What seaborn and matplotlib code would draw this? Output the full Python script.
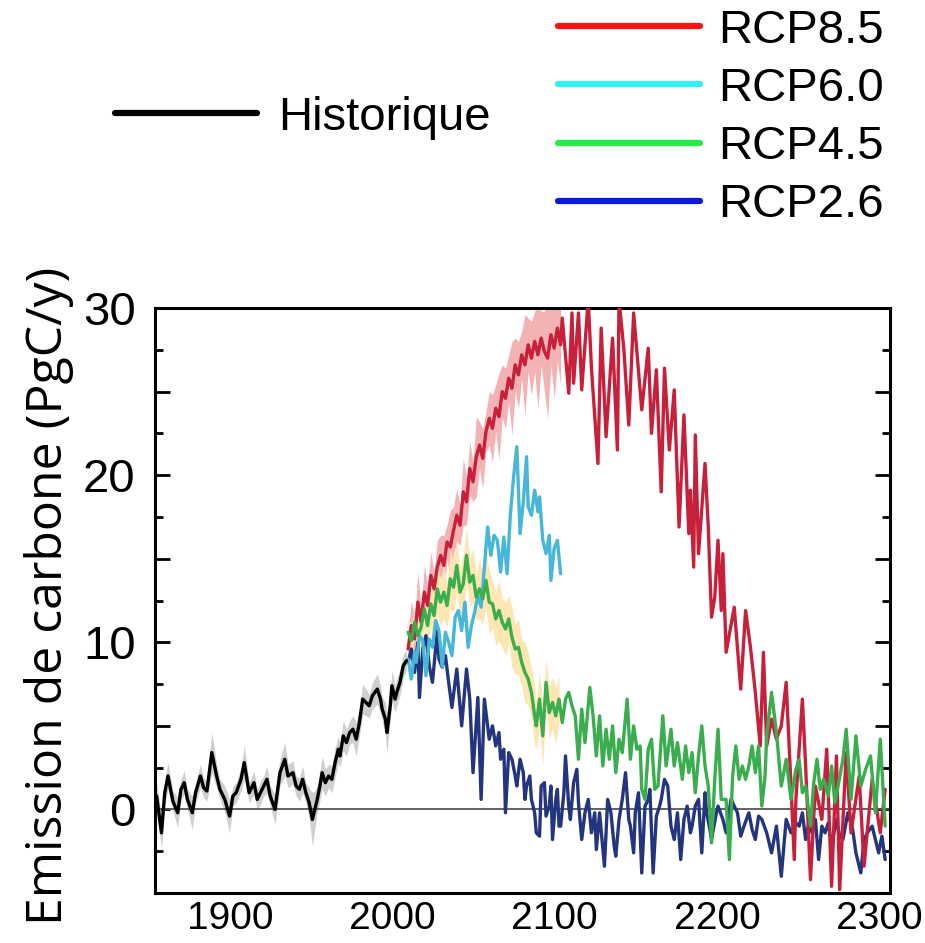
import numpy as np
import matplotlib
matplotlib.use("Agg")
import matplotlib.pyplot as plt
import matplotlib.ticker as mticker
import matplotlib.transforms as mtransforms
from matplotlib.lines import Line2D
import seaborn as sns

sns.set_theme(style="white")
plt.rcParams["font.family"] = ["Liberation Sans", "DejaVu Sans"]
plt.rcParams["text.color"] = "black"
plt.rcParams["axes.labelcolor"] = "black"

# ── Historique ───────────────────────────────────────────────
hist_years = [1851, 1854, 1856, 1858, 1861, 1864, 1866, 1868, 1870, 1873,
              1875, 1878, 1880, 1882, 1885, 1888, 1890, 1893, 1896, 1898,
              1900, 1903, 1905, 1908, 1911, 1913, 1915, 1917, 1919, 1921,
              1924, 1927, 1930, 1932, 1935, 1937, 1939, 1941, 1943, 1945,
              1947, 1949, 1950, 1952, 1953, 1955, 1957, 1959, 1961, 1963,
              1964, 1966, 1968, 1970, 1972, 1974, 1976, 1978, 1980, 1982,
              1984, 1987, 1989, 1990, 1992, 1993, 1995, 1996, 1998, 1999,
              2001, 2003, 2005]
hist_vals = [0.8, -1.4, 1.0, 2.0, 0.5, -0.2, 1.2, 1.6, 0.6, -0.2,
             1.0, 2.0, 1.3, 1.1, 3.4, 2.0, 1.2, 0.6, -0.4, 0.8,
             1.0, 1.8, 2.8, 1.0, 1.6, 0.6, 1.0, 1.4, 1.8, 0.8,
             0.0, 2.2, 3.0, 2.0, 2.2, 1.4, 1.2, 1.8, 1.0, 0.4,
             -0.6, 0.2, 0.6, 1.6, 2.2, 1.6, 2.0, 1.8, 2.8, 3.6,
             3.2, 4.4, 4.0, 4.6, 4.8, 4.2, 5.2, 6.6, 6.4, 6.2,
             6.8, 7.2, 6.6, 6.0, 5.4, 4.6, 6.2, 7.4, 6.6, 7.0,
             7.6, 8.6, 8.9]
hist_spread = [0.8, 1.0, 0.7, 0.8, 0.6, 0.9, 0.6, 0.7, 0.6, 1.0,
               0.6, 0.7, 0.6, 0.6, 1.2, 0.7, 0.6, 0.8, 1.0, 0.6,
               0.6, 0.7, 1.0, 0.6, 0.7, 0.6, 0.7, 0.6, 0.8, 0.6,
               0.9, 0.8, 1.0, 0.7, 0.7, 0.6, 0.7, 0.8, 0.6, 0.9,
               1.6, 1.0, 0.8, 0.9, 1.0, 0.8, 0.7, 0.8, 0.9, 0.8,
               0.7, 0.9, 0.8, 0.7, 0.8, 1.0, 0.8, 0.9, 0.8, 0.7,
               0.8, 0.9, 0.8, 0.7, 1.0, 1.2, 0.8, 0.9, 0.8, 0.8,
               0.8, 0.7, 0.6]

# ── RCP8.5 ───────────────────────────────────────────────────
rcp85_years = [2006, 2008, 2010, 2012, 2014, 2016, 2018, 2020, 2022, 2024,
               2026, 2028, 2030, 2032, 2034, 2036, 2038, 2040, 2042, 2044,
               2046, 2048, 2050, 2052, 2054, 2056, 2058, 2060, 2062, 2064,
               2066, 2068, 2070, 2072, 2074, 2076, 2078, 2080, 2082, 2084,
               2086, 2088, 2090, 2092, 2094, 2096, 2098, 2100,
               2101, 2105, 2107, 2108, 2111, 2113, 2117, 2119, 2123, 2125,
               2128, 2132, 2135, 2136, 2139, 2142, 2145, 2150, 2154, 2156,
               2159, 2162, 2164, 2167, 2170, 2173, 2176, 2179, 2180, 2182,
               2183, 2185, 2189, 2191, 2193, 2195, 2197, 2199, 2200, 2202,
               2207, 2211, 2214, 2217, 2220, 2223, 2225, 2227, 2230, 2233,
               2236, 2239, 2242, 2244, 2245, 2249, 2251, 2254, 2257, 2261,
               2264, 2267, 2270, 2272, 2276, 2279, 2284, 2287, 2292, 2297,
               2300]
rcp85_vals = [9.6, 11.0, 10.2, 12.4, 11.2, 13.0, 12.2, 14.0, 13.2, 14.5,
              15.2, 14.6, 16.0, 15.7, 16.7, 17.6, 17.0, 19.0, 18.4, 20.4,
              19.6, 21.1, 21.8, 21.0, 22.6, 23.4, 22.8, 24.0, 23.5, 25.0,
              24.6, 25.8, 25.2, 26.6, 26.0, 27.2, 26.6, 27.8, 27.0, 28.0,
              27.2, 28.2, 27.4, 27.0, 28.4, 27.6, 28.8, 27.8,
              29.4, 24.9, 29.7, 25.5, 29.7, 25.1, 30.5, 26.4, 20.7, 28.8,
              22.3, 28.2, 21.5, 30.5, 27.5, 23.0, 29.7, 23.9, 27.6, 22.5,
              26.3, 19.0, 26.4, 21.5, 25.1, 16.9, 23.6, 16.5, 19.1, 14.5,
              22.4, 15.3, 20.7, 16.9, 11.5, 12.7, 16.1, 11.9, 15.3, 9.4,
              12.1, 7.2, 11.9, 9.7, 7.0, 3.8, 9.4, 3.8, 5.4, 4.2,
              5.0, 7.6, 1.4, -3.0, 0.6, 6.6, 2.6, -4.2, 1.4, -0.6,
              3.6, -4.6, 3.2, -4.8, 3.4, -1.4, 2.0, -3.4, 1.8, -1.4,
              1.2]
# band half-width, 2006-2100 only
rcp85_spread = [1.0, 1.5, 1.2, 1.8, 1.0, 1.6, 1.2, 1.4, 1.0, 1.6,
                1.2, 1.8, 1.0, 2.2, 1.4, 1.6, 1.2, 2.0, 1.4, 1.6,
                1.2, 2.4, 1.4, 1.8, 1.2, 1.6, 2.0, 1.4, 2.6, 1.6,
                1.8, 1.4, 2.8, 1.6, 2.0, 1.4, 3.0, 1.6, 2.2, 1.8,
                3.2, 1.6, 2.4, 3.6, 1.8, 3.0, 2.0, 2.4]

# ── RCP6.0 ───────────────────────────────────────────────────
rcp60_years = [2006, 2008, 2010, 2011, 2013, 2015, 2017, 2019, 2021, 2023,
               2025, 2027, 2029, 2031, 2033, 2035, 2037, 2039, 2041, 2043,
               2045, 2047, 2049, 2051, 2053, 2055, 2057, 2059, 2061, 2063,
               2065, 2067, 2069, 2071, 2073, 2075, 2077, 2079, 2080, 2082,
               2084, 2086, 2087, 2089, 2091, 2093, 2094, 2096, 2098, 2100]
rcp60_vals = [9.0, 7.8, 9.4, 8.8, 10.4, 10.1, 8.0, 10.2, 9.7, 11.3,
              10.7, 8.5, 10.6, 10.0, 9.2, 11.5, 11.9, 10.7, 12.4, 9.7,
              11.0, 11.8, 12.8, 12.1, 14.5, 16.9, 15.2, 16.4, 16.1, 14.2,
              16.3, 14.1, 17.6, 19.9, 21.7, 16.5, 18.4, 21.1, 18.1, 17.6,
              19.1, 17.8, 18.7, 16.1, 15.3, 16.4, 13.7, 15.6, 16.1, 14.1]

# ── RCP4.5 ───────────────────────────────────────────────────
rcp45_years = [2006, 2008, 2010, 2012, 2014, 2016, 2018, 2020, 2022, 2024,
               2026, 2028, 2030, 2032, 2034, 2036, 2038, 2040, 2042, 2044,
               2046, 2048, 2050, 2052, 2054, 2056, 2058, 2060, 2062, 2064,
               2066, 2068, 2070, 2072, 2074, 2076, 2078, 2080, 2082, 2084,
               2085, 2087, 2089, 2091, 2093, 2095, 2097, 2099, 2101, 2103,
               2105, 2107, 2109, 2111, 2113, 2115, 2118, 2120, 2122, 2124,
               2126, 2128, 2130, 2132, 2134, 2136, 2138, 2141, 2143, 2145,
               2147, 2149, 2150, 2152, 2154, 2156, 2158, 2160, 2163, 2165,
               2168, 2170, 2172, 2175, 2177, 2179, 2181, 2183, 2185, 2187,
               2189, 2191, 2193, 2195, 2197, 2199, 2202, 2204, 2206, 2208,
               2210, 2212, 2214, 2216, 2218, 2220, 2222, 2224, 2226, 2227,
               2230, 2233, 2236, 2239, 2242, 2245, 2247, 2249, 2251, 2254,
               2256, 2258, 2260, 2262, 2265, 2267, 2269, 2271, 2274, 2276,
               2279, 2282, 2285, 2288, 2291, 2294, 2297, 2300]
rcp45_vals = [10.6, 10.1, 11.2, 10.4, 10.9, 12.0, 11.0, 12.3, 11.6, 13.2,
              12.4, 13.0, 12.2, 13.8, 13.3, 14.6, 13.0, 13.5, 15.2, 13.6,
              14.0, 12.7, 13.2, 12.6, 13.7, 12.4, 12.3, 11.4, 11.9, 11.2,
              10.8, 11.4, 10.3, 9.6, 9.7, 8.8, 8.2, 7.8, 7.0, 5.6,
              5.0, 6.6, 4.4, 7.6, 5.8, 6.4, 5.6, 6.6, 5.2, 6.6,
              7.0, 6.2, 5.6, 3.0, 6.0, 4.0, 7.3, 5.6, 3.2, 5.6,
              2.6, 4.8, 3.0, 5.0, 2.2, 4.2, 3.4, 6.6, 3.0, 5.0,
              3.6, 3.8, 1.2, 0.6, 3.6, 4.2, 1.2, 1.4, 5.6, 2.6,
              4.8, 2.6, 4.0, 1.8, 3.8, 2.2, 3.4, 1.0, 3.2, 5.0,
              2.6, 1.4, -2.0, 1.8, 4.8, 0.6, 0.6, -3.0, 2.0, 3.8,
              1.8, 2.6, 1.8, 2.6, 3.8, 2.2, 3.8, 0.2, 2.0, 4.4,
              7.0, 4.6, 1.4, 3.0, 0.6, 2.4, 3.0, 1.0, 1.4, -1.0,
              1.6, 3.0, 1.2, 1.8, 0.8, 2.6, 0.4, 1.4, 3.0, 4.8,
              0.6, 4.4, 1.4, 2.4, 3.2, -0.2, 4.2, -1.0]
# band half-width, 2006-2099 only
rcp45_spread = [0.8, 1.0, 0.9, 1.2, 1.0, 1.2, 1.0, 1.4, 1.2, 1.5,
                1.4, 1.6, 1.3, 1.8, 1.5, 1.6, 1.4, 1.8, 1.6, 1.5,
                1.6, 1.4, 1.8, 1.5, 1.6, 1.9, 1.4, 1.6, 1.8, 1.5,
                1.6, 1.4, 1.8, 1.5, 1.7, 1.4, 1.8, 1.6, 1.5, 1.8,
                1.4, 1.6, 1.8, 1.4, 1.6, 1.5, 1.7, 1.4]

# ── RCP2.6 ───────────────────────────────────────────────────
rcp26_years = [2006, 2008, 2010, 2012, 2013, 2015, 2017, 2019, 2021, 2024,
               2025, 2027, 2029, 2031, 2033, 2036, 2039, 2042, 2044, 2046,
               2049, 2051, 2053, 2056, 2058, 2060, 2062, 2063, 2065, 2066,
               2068, 2070, 2072, 2073, 2075, 2077, 2078, 2079, 2081, 2082,
               2084, 2085, 2087, 2088, 2090, 2091, 2093, 2094, 2095, 2097,
               2098, 2099, 2100, 2102, 2103, 2105, 2106, 2108, 2110, 2111,
               2113, 2115, 2117, 2119, 2121, 2122, 2124, 2127, 2129, 2131,
               2133, 2134, 2136, 2138, 2140, 2142, 2143, 2145, 2146, 2148,
               2150, 2152, 2154, 2155, 2157, 2159, 2161, 2162, 2164, 2166,
               2168, 2170, 2172, 2174, 2176, 2178, 2180, 2181, 2183, 2185,
               2187, 2189, 2190, 2192, 2193, 2196, 2197, 2200, 2202, 2205,
               2209, 2211, 2213, 2216, 2218, 2220, 2222, 2224, 2227, 2230,
               2233, 2236, 2239, 2242, 2245, 2247, 2249, 2251, 2253, 2255,
               2257, 2259, 2261, 2263, 2265, 2267, 2270, 2272, 2274, 2277,
               2280, 2282, 2285, 2287, 2289, 2292, 2294, 2296, 2298, 2300]
rcp26_vals = [8.8, 9.6, 8.2, 10.0, 6.7, 9.6, 10.4, 8.6, 7.6, 10.7,
              9.0, 8.5, 9.2, 7.6, 6.1, 8.4, 5.0, 8.4, 6.6, 2.2,
              6.7, 0.6, 6.6, 4.2, 5.0, 3.8, 4.6, 3.0, 3.6, -0.2,
              3.4, 3.0, 2.0, 1.4, 3.0, 2.2, 0.6, 1.4, 2.0, 0.6,
              -0.2, -1.4, -1.6, 1.4, 1.6, -0.4, 0.2, 1.4, -1.8, 0.6,
              1.2, -1.0, -1.0, 1.0, 3.2, 0.2, -0.6, 1.6, 2.4, 0.4,
              -1.8, -0.2, 0.6, -1.4, -0.2, -2.4, -0.2, -3.4, 0.6, -0.2,
              -2.2, -2.8, -0.6, 0.6, 2.2, -0.6, -1.0, -2.6, -0.2, 1.0,
              -3.8, 0.2, 0.6, 1.2, -3.8, -0.4, 0.2, 0.6, 1.8, 1.4,
              -1.0, -1.8, -0.2, -3.0, -0.6, 0.2, -1.4, -1.0, 0.2, 0.6,
              -2.6, 1.0, -0.2, -1.2, -1.8, -0.2, 0.2, -0.6, -1.4, 0.6,
              -0.2, -1.6, -1.0, -0.2, -1.2, -1.8, -0.4, -0.6, -1.4, -2.6,
              -1.0, -4.0, -0.6, -1.4, -0.8, -1.0, -0.2, -1.8, -0.8, -1.4,
              -0.6, -3.0, -1.0, -1.4, -0.8, -2.2, -0.6, -1.6, -1.8, -0.2,
              -1.2, -2.6, -3.8, -1.8, -1.4, -1.0, -1.8, -2.6, -1.6, -3.0]

labels = ["RCP8.5", "RCP6.0", "RCP4.5", "RCP2.6"]
line_colors = ["#c8203a", "#46b6d9", "#3aae4e", "#22357e"]
legend_colors = ["#ff1010", "#33f0f5", "#22ee44", "#0a1ad8"]

fig = plt.figure(figsize=(9.25, 9.43), dpi=100)
ax = fig.add_axes([155 / 925, 50 / 943, 735 / 925, 585 / 943])

# uncertainty bands
n85 = len(rcp85_spread)
n45 = len(rcp45_spread)
ax.fill_between(hist_years, np.array(hist_vals) - hist_spread,
                np.array(hist_vals) + hist_spread, color="#cfcfcf", lw=0, zorder=1)
ax.fill_between(rcp85_years[:n85], np.array(rcp85_vals[:n85]) - rcp85_spread,
                np.array(rcp85_vals[:n85]) + rcp85_spread, color="#f3b3b5", lw=0, zorder=1)
ax.fill_between(rcp45_years[:n45], np.array(rcp45_vals[:n45]) - rcp45_spread,
                np.array(rcp45_vals[:n45]) + rcp45_spread, color="#fde6b2", lw=0, zorder=1)

ax.axhline(0, color="#555555", lw=1.3, zorder=1.5)

lw = 2.4
sns.lineplot(x=rcp26_years, y=rcp26_vals, color=line_colors[3], lw=lw,
             estimator=None, sort=False, ax=ax, zorder=2)
sns.lineplot(x=rcp85_years, y=rcp85_vals, color=line_colors[0], lw=lw,
             estimator=None, sort=False, ax=ax, zorder=3)
sns.lineplot(x=rcp60_years, y=rcp60_vals, color=line_colors[1], lw=lw,
             estimator=None, sort=False, ax=ax, zorder=4)
sns.lineplot(x=rcp45_years, y=rcp45_vals, color=line_colors[2], lw=lw,
             estimator=None, sort=False, ax=ax, zorder=5)
sns.lineplot(x=hist_years, y=hist_vals, color="black", lw=lw,
             estimator=None, sort=False, ax=ax, zorder=6)

ax.set_xlim(1850, 2303)
ax.set_ylim(-5, 30)
ax.set_xticks([1900, 2000, 2100, 2200, 2300])
ax.tick_params(axis="x", length=0, labelsize=28, pad=6, colors="black")
shift = mtransforms.ScaledTranslation(-6 / 100, 0, fig.dpi_scale_trans)
for lab in ax.get_xticklabels():
    lab.set_transform(lab.get_transform() + shift)
ax.yaxis.set_major_locator(mticker.MultipleLocator(5))
ax.yaxis.set_minor_locator(mticker.MultipleLocator(2.5))
ax.yaxis.set_major_formatter(
    mticker.FuncFormatter(lambda v, _: f"{v:.0f}" if v % 10 == 0 else ""))
ax.tick_params(axis="y", which="major", direction="in", length=11, width=2,
               left=True, right=True, labelsize=34, pad=14, colors="black")
ax.tick_params(axis="y", which="minor", direction="in", length=6, width=2,
               left=True, right=True, colors="black")
for s in ax.spines.values():
    s.set_linewidth(2.2)
    s.set_color("black")
ax.set_xlabel("")
ax.set_ylabel("Emission de carbone (PgC/y)", fontsize=36, family="Open Sans",
              color="black")
ax.yaxis.set_label_coords(-0.11, 0.508)

# legends
h1 = [Line2D([], [], color="black", lw=4.5)]
fig.legend(h1, ["Historique"], loc="center left",
           bbox_to_anchor=(115 / 925, 1 - 118 / 943), frameon=False,
           fontsize=34, handlelength=3.0, handletextpad=0.45,
           borderpad=0, borderaxespad=0, labelcolor="black")
h2 = [Line2D([], [], color=c, lw=4.5) for c in legend_colors]
fig.legend(h2, labels, loc="center left",
           bbox_to_anchor=(558 / 925, 1 - 118 / 943), frameon=False,
           fontsize=34, handlelength=3.0, handletextpad=0.4,
           labelspacing=0.3, borderpad=0, borderaxespad=0, labelcolor="black")

fig.savefig("out.png", dpi=100)
